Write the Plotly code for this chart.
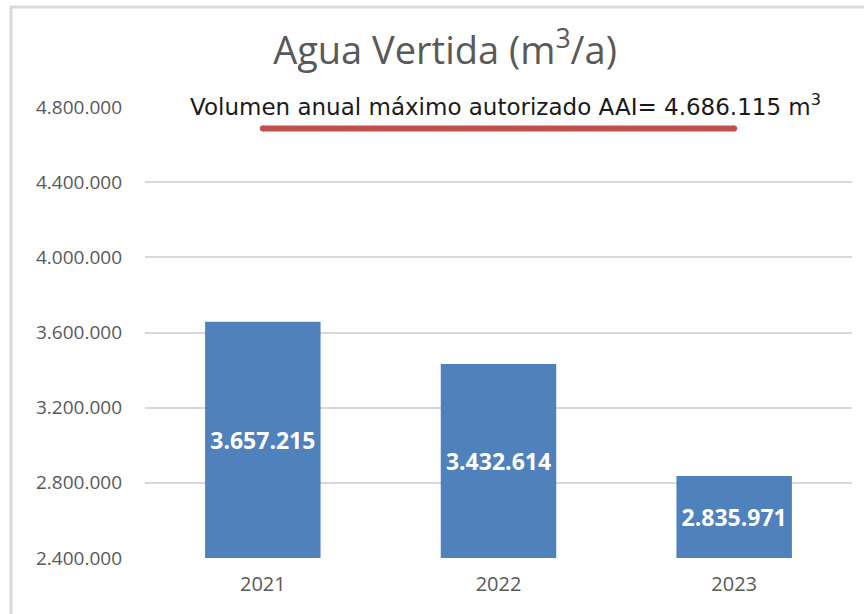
import plotly.graph_objects as go

years = ["2021", "2022", "2023"]
values = [3657215, 3432614, 2835971]
value_labels = ["3.657.215", "3.432.614", "2.835.971"]
limit_value = 4686115
limit_x = ["2021", "2023"]
y_min, y_max = 2400000, 4800000
tick_vals = [2400000, 2800000, 3200000, 3600000, 4000000, 4400000, 4800000]
tick_text = ["2.400.000", "2.800.000", "3.200.000", "3.600.000", "4.000.000", "4.400.000", "4.800.000"]

L, R, T, B = 145, 12, 107, 56
W, H = 864, 614
pw = W - L - R
ph = H - T - B

fig = go.Figure()
# bars start at the axis minimum so the inside labels centre in the visible part
fig.add_trace(go.Bar(
    x=years, y=[v - y_min for v in values], base=y_min,
    text=value_labels, texttemplate="<b>%{text}</b>",
    textposition="inside", insidetextanchor="middle",
    textfont=dict(color="white", size=23, family="Open Sans"),
    marker=dict(color="#4F81BD", line=dict(width=0)),
    width=0.49, hoverinfo="skip",
))
fig.add_trace(go.Scatter(
    x=limit_x, y=[limit_value] * 2, mode="lines+markers",
    line=dict(color="#C0504D", width=6),
    marker=dict(color="#C0504D", size=6, line=dict(width=0)),
    hoverinfo="skip", cliponaxis=False,
))

fig.add_annotation(
    x=1, y=y_max, xref="x", yref="y", xshift=7, yshift=2,
    text="Volumen anual máximo autorizado AAI= 4.686.115 m<sup>3</sup>",
    showarrow=False, font=dict(family="DejaVu Sans", size=23, color="#1a1a1a"),
    xanchor="center", yanchor="middle",
)

fig.add_shape(type="rect", xref="paper", yref="paper",
              x0=-(L - 11) / pw, x1=1.2, y0=-0.3, y1=1 + (T - 7) / ph,
              line=dict(color="#D9D9D9", width=3), layer="below")

fig.update_layout(
    width=W, height=H,
    margin=dict(l=L, r=R, t=T, b=B),
    paper_bgcolor="white", plot_bgcolor="white",
    showlegend=False,
    title=dict(text="Agua Vertida (m<sup>3</sup>/a)", x=445 / W, xanchor="center",
               y=1 - 51 / H, yanchor="middle",
               font=dict(family="Open Sans", size=38, color="#595959")),
    bargap=0.51,
)
fig.update_yaxes(range=[y_min, y_max], tickvals=tick_vals, ticktext=tick_text,
                 showgrid=True, gridcolor="#D9D9D9", gridwidth=2, zeroline=False,
                 showline=False, ticks="", ticklabelstandoff=22,
                 tickfont=dict(family="Open Sans", size=19, color="#595959"))
fig.update_xaxes(showgrid=False, showline=False, ticks="", type="category",
                 ticklabelstandoff=12,
                 tickfont=dict(family="Open Sans", size=20, color="#595959"))

fig.write_html("out.html", config={"displayModeBar": False},
               post_script="document.body.style.margin='0';")
